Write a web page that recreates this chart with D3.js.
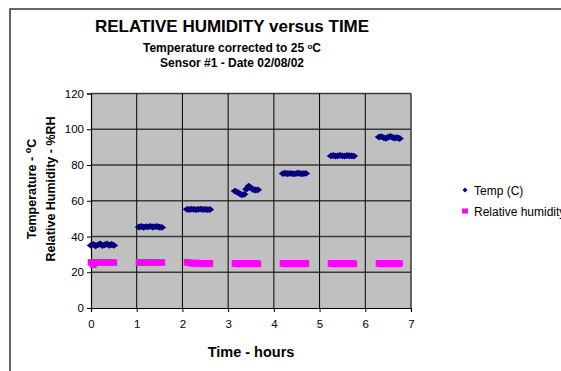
<!DOCTYPE html>
<html>
<head>
<meta charset="utf-8">
<script src="https://cdn.jsdelivr.net/npm/d3@7"></script>
<style>
  body { margin: 0; background: #fff; }
  svg { display: block; font-family: Arial, "Liberation Sans", sans-serif; }
</style>
</head>
<body>
<svg id="chart" width="561" height="371"></svg>
<script>
// time in hours (sampled every 0.05 h during each reading)
var hours = [
  0.00, 0.05, 0.10, 0.15, 0.20, 0.25, 0.30, 0.35, 0.40, 0.45, 0.50,
  1.05, 1.10, 1.15, 1.20, 1.25, 1.30, 1.35, 1.40, 1.45, 1.50, 1.55,
  2.10, 2.15, 2.20, 2.25, 2.30, 2.35, 2.40, 2.45, 2.50, 2.55, 2.60,
  3.15, 3.20, 3.25, 3.30, 3.35, 3.40, 3.45, 3.50, 3.55, 3.60, 3.65,
  4.20, 4.25, 4.30, 4.35, 4.40, 4.45, 4.50, 4.55, 4.60, 4.65, 4.70,
  5.25, 5.30, 5.35, 5.40, 5.45, 5.50, 5.55, 5.60, 5.65, 5.70, 5.75,
  6.30, 6.35, 6.40, 6.45, 6.50, 6.55, 6.60, 6.65, 6.70, 6.75
];
var tempC = [
  35.0, 35.6, 34.8, 35.3, 35.9, 34.9, 35.4, 35.8, 35.1, 35.5, 35.0,
  45.3, 45.6, 45.2, 45.5, 45.4, 45.7, 45.3, 45.5, 45.6, 45.2, 45.1,
  55.2, 55.1, 55.3, 55.2, 55.0, 55.2, 55.3, 55.1, 55.2, 55.0, 55.1,
  65.4, 64.8, 64.0, 63.3, 63.6, 66.5, 68.1, 67.2, 66.2, 66.0, 66.1,
  75.2, 75.4, 75.1, 75.3, 75.2, 75.0, 75.3, 75.4, 75.1, 75.2, 75.3,
  85.1, 85.3, 85.0, 85.2, 85.4, 85.1, 85.0, 85.3, 85.2, 85.1, 85.0,
  95.6, 95.9, 95.3, 94.9, 95.5, 96.0, 95.4, 95.1, 95.3, 94.8
];
var relHumidity = [
  25.5, 24.2, 25.4, 25.5, 25.6, 25.5, 25.4, 25.5, 25.6, 25.5, 25.4,
  25.5, 25.6, 25.5, 25.4, 25.5, 25.6, 25.5, 25.5, 25.4, 25.5, 25.5,
  25.6, 25.3, 25.1, 25.0, 25.2, 25.0, 24.9, 25.0, 24.9, 25.0, 24.9,
  24.9, 24.8, 24.9, 24.9, 24.8, 24.9, 24.9, 24.8, 24.9, 24.9, 24.8,
  24.9, 24.9, 24.8, 24.9, 24.9, 24.8, 24.9, 24.9, 24.8, 24.9, 24.9,
  24.9, 24.8, 24.9, 24.9, 24.8, 24.9, 24.9, 24.8, 24.9, 24.9, 24.8,
  24.9, 24.9, 24.8, 24.9, 24.9, 24.8, 24.9, 24.9, 24.8, 24.9
];
var xTicks = [0, 1, 2, 3, 4, 5, 6, 7];
var yTicks = [0, 20, 40, 60, 80, 100, 120];
var seriesNames = ["Temp (C)", "Relative humidity"];

var svg = d3.select("#chart");

// chart frame (runs off the right and bottom of the picture)
svg.append("rect")
  .attr("x", 10).attr("y", 9)
  .attr("width", 600).attr("height", 400)
  .attr("fill", "none")
  .attr("stroke", "#333")
  .attr("stroke-width", 1.5);

var plot = { left: 91, top: 93.5, right: 411, bottom: 308 };

var x = d3.scaleLinear().domain([0, 7]).range([plot.left, plot.right]);
var y = d3.scaleLinear().domain([0, 120]).range([plot.bottom, plot.top]);

// plot area
svg.append("rect")
  .attr("x", plot.left).attr("y", plot.top)
  .attr("width", plot.right - plot.left)
  .attr("height", plot.bottom - plot.top)
  .attr("fill", "#c0c0c0");

// gridlines
svg.append("g").selectAll("line")
  .data(yTicks.slice(1))
  .enter().append("line")
  .attr("x1", plot.left).attr("x2", plot.right)
  .attr("y1", function(d) { return y(d); })
  .attr("y2", function(d) { return y(d); })
  .attr("stroke", "#3a3a3a")
  .attr("stroke-width", 1.5);

svg.append("g").selectAll("line")
  .data(xTicks.slice(1))
  .enter().append("line")
  .attr("x1", function(d) { return x(d); })
  .attr("x2", function(d) { return x(d); })
  .attr("y1", plot.top).attr("y2", plot.bottom)
  .attr("stroke", function(d) { return d === 7 ? "#3a3a3a" : "#000"; })
  .attr("stroke-width", function(d) { return d === 7 ? 1.5 : 1; });

// axes
var yAxis = svg.append("g")
  .attr("transform", "translate(" + plot.left + ",0)")
  .call(d3.axisLeft(y).tickValues(yTicks).tickSize(4).tickPadding(3));
var xAxis = svg.append("g")
  .attr("transform", "translate(0," + plot.bottom + ")")
  .call(d3.axisBottom(x).tickValues(xTicks).tickFormat(d3.format("d"))
    .tickSize(4).tickPadding(8));

[yAxis, xAxis].forEach(function(a) {
  a.select(".domain").attr("stroke", "#000").attr("stroke-width", 1.2);
  a.selectAll(".tick line").attr("stroke", "#000");
  a.selectAll(".tick text")
    .attr("font-family", "Arial, 'Liberation Sans', sans-serif")
    .attr("font-size", 11.5)
    .attr("fill", "#000");
});

// data markers
var points = hours.map(function(h, i) {
  return { t: h, temp: tempC[i], rh: relHumidity[i] };
});

svg.append("g").selectAll("rect")
  .data(points)
  .enter().append("rect")
  .attr("x", function(d) { return x(d.t) - 3.3; })
  .attr("y", function(d) { return y(d.rh) - 3.3; })
  .attr("width", 6.6).attr("height", 6.6)
  .attr("fill", "#ff00ff");

var diamond = d3.symbol().type(d3.symbolDiamond2).size(30);
svg.append("g").selectAll("path")
  .data(points)
  .enter().append("path")
  .attr("d", diamond)
  .attr("transform", function(d) {
    return "translate(" + x(d.t) + "," + y(d.temp) + ") scale(1.25,1)";
  })
  .attr("fill", "#000080");

// titles
svg.append("text")
  .attr("x", 232).attr("y", 32)
  .attr("text-anchor", "middle")
  .attr("font-size", 17).attr("font-weight", "bold")
  .text("RELATIVE HUMIDITY versus TIME");

var sub = svg.append("text")
  .attr("x", 232).attr("y", 51.5)
  .attr("text-anchor", "middle")
  .attr("font-size", 12).attr("font-weight", "bold");
sub.append("tspan").text("Temperature corrected to 25 ");
sub.append("tspan").attr("font-size", 8).attr("dy", -3).text("o");
sub.append("tspan").attr("dy", 3).text("C");

svg.append("text")
  .attr("x", 232).attr("y", 66.5)
  .attr("text-anchor", "middle")
  .attr("font-size", 12).attr("font-weight", "bold")
  .text("Sensor #1 - Date 02/08/02");

svg.append("text")
  .attr("x", 251).attr("y", 356.5)
  .attr("text-anchor", "middle")
  .attr("font-size", 14.5).attr("font-weight", "bold")
  .text("Time - hours");

var yt = svg.append("text")
  .attr("transform", "translate(36,189) rotate(-90)")
  .attr("text-anchor", "middle")
  .attr("font-size", 12.5).attr("font-weight", "bold");
yt.append("tspan").attr("x", 0).attr("y", 0).text("Temperature - ");
yt.append("tspan").attr("font-size", 9).attr("dy", -5).text("o");
yt.append("tspan").attr("dy", 5).text("C");

svg.append("text")
  .attr("transform", "translate(55,189) rotate(-90)")
  .attr("text-anchor", "middle")
  .attr("font-size", 12.5).attr("font-weight", "bold")
  .text("Relative Humidity - %RH");

// legend
var legend = svg.append("g").attr("transform", "translate(465,190)");
legend.append("path")
  .attr("d", d3.symbol().type(d3.symbolDiamond2).size(16))
  .attr("fill", "#000080");
legend.append("rect")
  .attr("x", -3).attr("y", 18.5)
  .attr("width", 6).attr("height", 5)
  .attr("fill", "#ff00ff");
legend.selectAll("text")
  .data(seriesNames)
  .enter().append("text")
  .attr("x", 9)
  .attr("y", function(d, i) { return i * 21 + 4.5; })
  .attr("font-size", 12)
  .text(function(d) { return d; });
</script>
</body>
</html>
